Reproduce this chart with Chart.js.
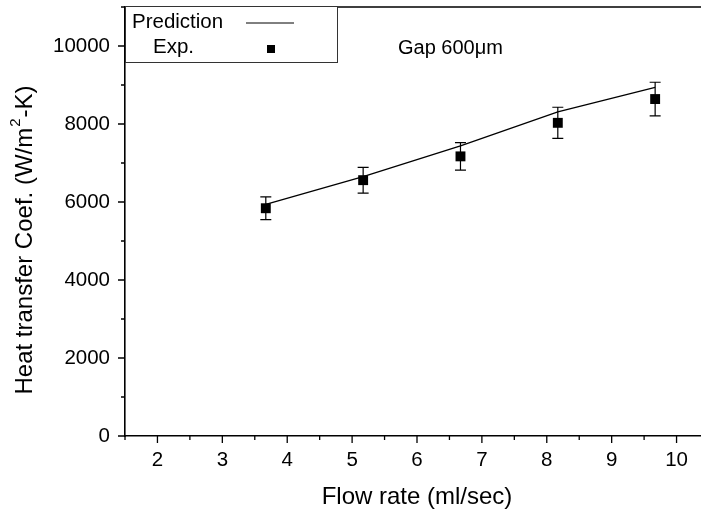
<!DOCTYPE html>
<html>
<head>
<meta charset="utf-8">
<script src="https://cdn.jsdelivr.net/npm/chart.js@4.4.0/dist/chart.umd.min.js"></script>
<style>
  html, body { margin: 0; padding: 0; background: #fff; overflow: hidden; }
  #wrap { width: 716px; height: 516px; }
</style>
</head>
<body>
<div id="wrap"><canvas id="chart" width="716" height="516"></canvas></div>
<script>
// flow rate (ml/sec)
const flowRates = [3.67, 5.17, 6.67, 8.17, 9.67];
const predicted = [5940, 6650, 7440, 8310, 8940];
const measured = [5840, 6560, 7170, 8030, 8640];
const measuredErr = [290, 330, 355, 400, 430];

const xTicks = [2, 3, 4, 5, 6, 7, 8, 9, 10];
const xMinorTicks = [1.5, 2.5, 3.5, 4.5, 5.5, 6.5, 7.5, 8.5, 9.5, 10.5];
const yTicks = [0, 2000, 4000, 6000, 8000, 10000];
const yMinorTicks = [1000, 3000, 5000, 7000, 9000, 11000];

const FONT = '"Liberation Sans", Arial, sans-serif';

const errorBars = {
  id: 'errorBars',
  beforeDatasetsDraw(chart) {
    const { ctx, scales: { x, y } } = chart;
    ctx.save();
    ctx.strokeStyle = '#000';
    ctx.lineWidth = 1.2;
    flowRates.forEach((f, i) => {
      const px = x.getPixelForValue(f);
      const top = y.getPixelForValue(measured[i] + measuredErr[i]);
      const bot = y.getPixelForValue(measured[i] - measuredErr[i]);
      ctx.beginPath();
      ctx.moveTo(px, top); ctx.lineTo(px, bot);
      ctx.moveTo(px - 5.5, top); ctx.lineTo(px + 5.5, top);
      ctx.moveTo(px - 5.5, bot); ctx.lineTo(px + 5.5, bot);
      ctx.stroke();
    });
    ctx.restore();
  }
};

const frameAndExtras = {
  id: 'frameAndExtras',
  afterDraw(chart) {
    const { ctx, chartArea: a, scales: { x, y } } = chart;
    ctx.save();
    ctx.strokeStyle = '#000';
    ctx.lineWidth = 1.6;
    // top + right frame
    ctx.beginPath();
    ctx.moveTo(a.left, a.top); ctx.lineTo(a.right, a.top); ctx.lineTo(a.right, a.bottom);
    ctx.stroke();

    // tick marks (outside)
    ctx.lineWidth = 1.3;
    ctx.beginPath();
    xTicks.forEach(v => { const p = x.getPixelForValue(v); ctx.moveTo(p, a.bottom); ctx.lineTo(p, a.bottom + 7); });
    xMinorTicks.forEach(v => { const p = x.getPixelForValue(v); ctx.moveTo(p, a.bottom); ctx.lineTo(p, a.bottom + 4); });
    yTicks.forEach(v => { const p = y.getPixelForValue(v); ctx.moveTo(a.left, p); ctx.lineTo(a.left - 7, p); });
    yMinorTicks.forEach(v => { const p = y.getPixelForValue(v); ctx.moveTo(a.left, p); ctx.lineTo(a.left - 4, p); });
    ctx.stroke();

    // legend box
    const lx = a.left, ly = a.top - 1, lw = 212, lh = 56;
    ctx.fillStyle = '#fff';
    ctx.fillRect(lx, ly, lw, lh);
    ctx.lineWidth = 1;
    ctx.strokeStyle = '#333';
    ctx.strokeRect(lx + 0.5, ly + 0.5, lw, lh);
    ctx.fillStyle = '#000';
    ctx.font = '20.5px ' + FONT;
    ctx.textBaseline = 'middle';
    ctx.textAlign = 'left';
    ctx.fillText('Prediction', lx + 7, ly + 16);
    ctx.fillText('Exp.', lx + 28, ly + 41);
    ctx.strokeStyle = '#000';
    ctx.lineWidth = 1;
    ctx.beginPath();
    ctx.moveTo(lx + 121, ly + 17); ctx.lineTo(lx + 169, ly + 17);
    ctx.stroke();
    ctx.fillRect(lx + 142, ly + 39, 8, 8);

    // annotation
    ctx.font = '20px ' + FONT;
    ctx.fillText('Gap 600\u03bcm', 398, 48);

    // y axis title with superscript
    ctx.save();
    ctx.translate(25, 241);
    ctx.rotate(-Math.PI / 2);
    const partA = 'Heat transfer Coef. (W/m', partB = '2', partC = '-K)';
    ctx.font = '24px ' + FONT;
    const wA = ctx.measureText(partA).width, wC = ctx.measureText(partC).width;
    ctx.font = '15px ' + FONT;
    const wB = ctx.measureText(partB).width;
    let sx = -(wA + wB + wC) / 2;
    ctx.font = '24px ' + FONT;
    ctx.fillText(partA, sx, 0);
    ctx.font = '15px ' + FONT;
    ctx.fillText(partB, sx + wA + 1, -9);
    ctx.font = '24px ' + FONT;
    ctx.fillText(partC, sx + wA + wB + 2, 0);
    ctx.restore();
    ctx.restore();
  }
};

new Chart(document.getElementById('chart'), {
  type: 'scatter',
  data: {
    datasets: [
      {
        label: 'Prediction',
        data: flowRates.map((f, i) => ({ x: f, y: predicted[i] })),
        showLine: true,
        borderColor: '#000',
        borderWidth: 1.3,
        pointRadius: 0,
        tension: 0
      },
      {
        label: 'Exp.',
        data: flowRates.map((f, i) => ({ x: f, y: measured[i] })),
        pointStyle: 'rect',
        pointRadius: 7,
        backgroundColor: '#000',
        borderColor: '#000',
        borderWidth: 0
      }
    ]
  },
  options: {
    responsive: false,
    animation: false,
    layout: { padding: { left: 0, right: 5, top: 7, bottom: 0 } },
    plugins: { legend: { display: false }, tooltip: { enabled: false } },
    scales: {
      x: {
        type: 'linear',
        min: 1.5,
        max: 10.5,
        afterBuildTicks: s => { s.ticks = xTicks.map(v => ({ value: v })); },
        afterFit: s => { s.height = 80; s.paddingLeft = 0; s.paddingRight = 0; },
        grid: { display: false, drawTicks: false },
        border: { display: true, color: '#000', width: 1.6 },
        ticks: { color: '#000', font: { family: FONT, size: 20.5 }, padding: 12, maxRotation: 0, callback: v => String(v) },
        title: { display: true, text: 'Flow rate (ml/sec)', color: '#000', font: { family: FONT, size: 24 }, padding: { top: 2 } }
      },
      y: {
        min: 0,
        max: 11000,
        afterBuildTicks: s => { s.ticks = yTicks.map(v => ({ value: v })); },
        afterFit: s => { s.width = 125; s.paddingTop = 0; s.paddingBottom = 0; },
        grid: { display: false, drawTicks: false },
        border: { display: true, color: '#000', width: 1.6 },
        ticks: { color: '#000', font: { family: FONT, size: 20.5 }, padding: 15, callback: v => String(v) }
      }
    }
  },
  plugins: [errorBars, frameAndExtras]
});
</script>
</body>
</html>
